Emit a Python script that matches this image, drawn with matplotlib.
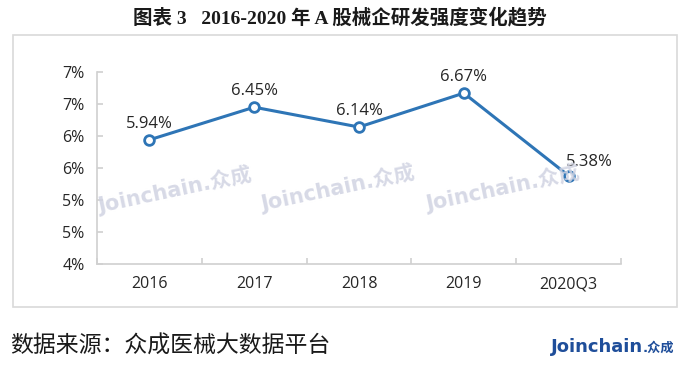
import matplotlib
matplotlib.use("Agg")
import matplotlib.pyplot as plt
from matplotlib.patches import Rectangle
from matplotlib.ticker import FuncFormatter, FixedLocator

categories = ["2016", "2017", "2018", "2019", "2020Q3"]
values = [5.94, 6.45, 6.14, 6.67, 5.38]
y_ticks = [4.0, 4.5, 5.0, 5.5, 6.0, 6.5, 7.0]

W, H = 681, 369
fig = plt.figure(figsize=(W / 100, H / 100), dpi=100)
fig.patch.set_facecolor("white")

def fx(px):
    return px / W

def fy(py):
    return 1 - py / H

# outer chart border
fig.patches.append(Rectangle((fx(13), fy(307)), fx(677) - fx(13), fy(35) - fy(307),
                             transform=fig.transFigure, fill=False,
                             edgecolor="#D9D9D9", linewidth=1.2, zorder=0))

ax = fig.add_axes([fx(97), fy(264), fx(621) - fx(97), fy(72) - fy(264)])
ax.set_facecolor("none")

x = list(range(len(categories)))
blue = "#2E75B6"
ax.plot(x, values, color=blue, linewidth=2.2, zorder=3,
        marker="o", markersize=7, markerfacecolor="white",
        markeredgecolor=blue, markeredgewidth=2)

label_font = dict(family=["Open Sans", "DejaVu Sans"], fontsize=12, color="#262626")
for i, v in enumerate(values):
    if i == len(values) - 1:
        ax.annotate(f"{v:.2f}%", (i, v), xytext=(15, 4), textcoords="offset points",
                    ha="center", va="bottom", **label_font)
    else:
        ax.annotate(f"{v:.2f}%", (i, v), xytext=(0, 6), textcoords="offset points",
                    ha="center", va="bottom", **label_font)

ax.set_xlim(-0.5, len(categories) - 0.5)
ax.set_ylim(4.0, 7.0)

ax.yaxis.set_major_locator(FixedLocator(y_ticks))
ax.yaxis.set_major_formatter(FuncFormatter(lambda v, p: f"{int(v + 0.5 + 1e-9)}%"))

ax.set_xticks(x)
ax.set_xticklabels(categories)
ax.set_xticks([i - 0.5 for i in range(len(categories) + 1)], minor=True)

spine_c = "#D0D0D0"
for s in ["top", "right"]:
    ax.spines[s].set_visible(False)
for s in ["left", "bottom"]:
    ax.spines[s].set_color(spine_c)
    ax.spines[s].set_linewidth(1.2)

ax.tick_params(axis="x", which="major", length=0, pad=9)
ax.tick_params(axis="x", which="minor", direction="in", length=4, color=spine_c, width=1.2)
ax.tick_params(axis="y", which="major", direction="in", length=4, color=spine_c, width=1.2, pad=9)
for lab in ax.get_xticklabels() + ax.get_yticklabels():
    lab.set_fontfamily(["Open Sans", "DejaVu Sans"])
    lab.set_fontsize(11.5)
    lab.set_color("#262626")

# watermarks
for cx, cy in [(175, 190), (338, 188), (503, 188)]:
    fig.text(fx(cx), fy(cy), "Joinchain.众成", rotation=12, ha="center", va="center",
             fontsize=15, fontweight="bold", color="#D0D3E2", alpha=0.85,
             family=["DejaVu Sans", "Noto Sans CJK SC"], zorder=1)

# title
fig.text(fx(340), fy(17), "图表 3   2016-2020 年 A 股械企研发强度变化趋势",
         ha="center", va="center", fontsize=14, fontweight="bold", color="#1a1a1a",
         family=["Liberation Serif", "Noto Sans CJK SC"])

# source
fig.text(fx(10), fy(346), "数据来源：众成医械大数据平台", ha="left", va="center",
         fontsize=16.5, color="#1a1a1a", family=["Noto Sans CJK SC"], fontweight="light")

# logo
fig.text(fx(643), fy(347), "Joinchain", ha="right", va="center", fontsize=13,
         fontweight="bold", color="#1F4E9A", family=["DejaVu Sans"])
fig.text(fx(643), fy(348), ".众成", ha="left", va="center", fontsize=9.5,
         fontweight="bold", color="#1F4E9A", family=["DejaVu Sans", "Noto Sans CJK SC"])

fig.savefig("out.png", dpi=100, facecolor="white")
